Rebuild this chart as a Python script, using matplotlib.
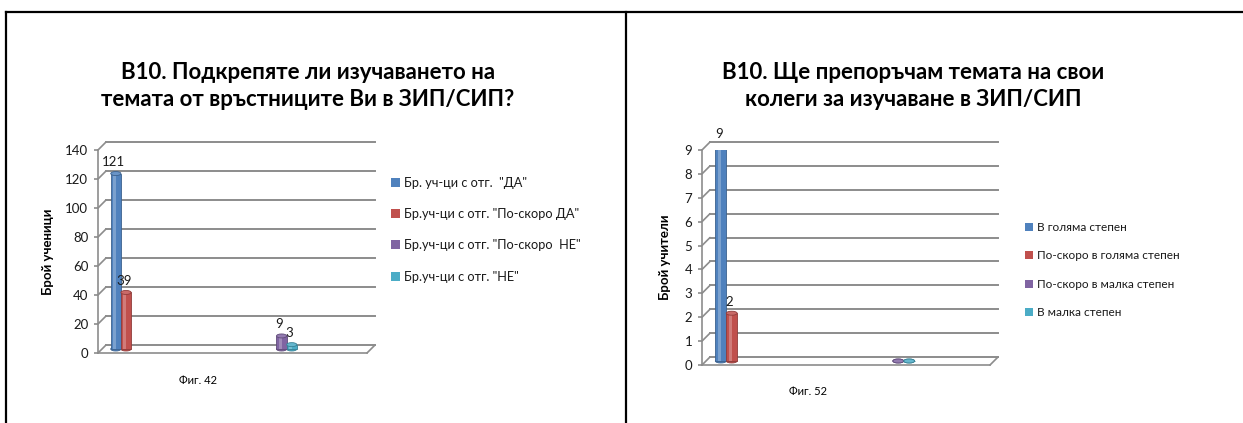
import matplotlib.pyplot as plt
from matplotlib.patches import Ellipse, Patch
from matplotlib.lines import Line2D
from matplotlib.transforms import ScaledTranslation
from matplotlib.colors import to_rgb

plt.rcParams['font.family'] = ['Lato', 'DejaVu Sans']

W, H = 1243, 423
fig = plt.figure(figsize=(W / 100, H / 100), dpi=100)

# Excel 2007 default series colours
series_colors = ['#4F81BD', '#C0504D', '#8064A2', '#4BACC6']
grid_color = '#8C8C8C'

# --- Фиг. 42: ученици ---
students_series = ['Бр. уч-ци с отг.  "ДА"',
                   'Бр.уч-ци с отг. "По-скоро ДА"',
                   'Бр.уч-ци с отг. "По-скоро  НЕ"',
                   'Бр.уч-ци с отг. "НЕ"']
# one list per series, one value per category (None = empty cell)
students_counts = [[121, None],
                   [39, None],
                   [None, 9],
                   [None, 3]]
students_ticks = [0, 20, 40, 60, 80, 100, 120, 140]

# --- Фиг. 52: учители ---
teachers_series = ['В голяма степен',
                   'По-скоро в голяма степен',
                   'По-скоро в малка степен',
                   'В малка степен']
teachers_counts = [[9, None],
                   [2, None],
                   [None, 0],
                   [None, 0]]
teachers_ticks = [0, 1, 2, 3, 4, 5, 6, 7, 8, 9]


def shade(color, f):
    r, g, b = to_rgb(color)
    if f > 0:
        return (r + (1 - r) * f, g + (1 - g) * f, b + (1 - b) * f)
    return (r * (1 + f), g * (1 + f), b * (1 + f))


def px(x, y):
    return x / W, 1 - y / H


def draw_chart(rect, counts, ticks, ylabel, ylabel_xy, legend_labels, legend_xy,
               legend_size, legend_spacing, tick_size):
    ax = fig.add_axes(rect)
    ymax = ticks[-1]
    xl, xr = -0.2, 1.65
    ax.set_xlim(xl, xr)
    ax.set_ylim(0, ymax)
    ax.set_yticks(ticks)
    ax.set_xticks([])
    for s in ['top', 'right']:
        ax.spines[s].set_visible(False)
    for s in ['left', 'bottom']:
        ax.spines[s].set_color(grid_color)
        ax.spines[s].set_linewidth(1.2)
    ax.tick_params(axis='y', length=3, width=1.2, color=grid_color,
                   labelsize=tick_size, pad=4, labelcolor='#1a1a1a')
    ax.patch.set_alpha(0)

    back = ax.transData + ScaledTranslation(0.08, 0.08, fig.dpi_scale_trans)
    mid = ax.transData + ScaledTranslation(0.04, 0.04, fig.dpi_scale_trans)

    # back wall gridlines and side wall diagonals
    for t in ticks:
        ax.plot([xl, xr], [t, t], color=grid_color, lw=1.4, transform=back,
                clip_on=False, zorder=1)
        ax.annotate('', xy=(xl, t), xycoords=back, xytext=(xl, t),
                    textcoords='data',
                    arrowprops=dict(arrowstyle='-', color=grid_color, lw=1.2,
                                    shrinkA=0, shrinkB=0))
    # floor right edge
    ax.annotate('', xy=(xr, 0), xycoords=back, xytext=(xr, 0), textcoords='data',
                arrowprops=dict(arrowstyle='-', color=grid_color, lw=1.2,
                                shrinkA=0, shrinkB=0))

    bar_w = 0.07
    cap_h = ymax * 4 / ax.get_window_extent().height
    n = len(counts)
    for i, (vals, color) in enumerate(zip(counts, series_colors)):
        for cat, v in enumerate(vals):
            if v is None:
                continue
            x = cat + (i - (n - 1) / 2) * bar_w
            ax.bar(x, v, width=bar_w, color=color, edgecolor=shade(color, -0.25),
                   linewidth=0.6, transform=mid, zorder=3)
            ax.bar(x - bar_w * 0.12, v, width=bar_w * 0.25,
                   color=shade(color, 0.25), linewidth=0, transform=mid, zorder=3.1)
            ax.add_patch(Ellipse((x, 0), bar_w, cap_h, facecolor=color,
                                 edgecolor=shade(color, -0.25), lw=0.6,
                                 transform=mid, zorder=2.9))
            ax.add_patch(Ellipse((x, v), bar_w, cap_h, facecolor=shade(color, 0.15),
                                 edgecolor=shade(color, -0.25), lw=0.6,
                                 transform=mid, zorder=3.2))
            if v > 0:
                ax.annotate(str(v), xy=(x, v), xycoords=mid, xytext=(-1.5, 4),
                            textcoords='offset points', ha='center', va='bottom',
                            fontsize=tick_size, color='#1a1a1a')

    fig.text(*px(*ylabel_xy), ylabel, rotation=90, ha='center', va='center',
             fontsize=9.5, fontweight='bold')

    handles = [Patch(facecolor=c, edgecolor='none') for c in series_colors]
    ax.legend(handles, legend_labels, loc='upper left',
              bbox_to_anchor=px(*legend_xy), bbox_transform=fig.transFigure,
              frameon=False, fontsize=legend_size, handlelength=0.7,
              handleheight=0.7, handletextpad=0.35, labelspacing=legend_spacing,
              borderaxespad=0, borderpad=0, labelcolor='#1a1a1a')
    return ax


# left chart
fig.text(*px(308, 86), 'В10. Подкрепяте ли изучаването на\nтемата от връстниците Ви в ЗИП/СИП?',
         ha='center', va='center', fontsize=16, fontweight='bold', linespacing=1.35)
draw_chart([98 / W, 1 - 353 / H, 269 / W, 203 / H], students_counts, students_ticks,
           'Брой ученици', (48, 252), students_series, (391, 177), 9.2, 1.5, 9.5)
fig.text(*px(198, 380), 'Фиг. 42', ha='center', va='center', fontsize=8)

# right chart
fig.text(*px(913, 86), 'В10. Ще препоръчам темата на свои\nколеги за изучаване в ЗИП/СИП',
         ha='center', va='center', fontsize=16, fontweight='bold', linespacing=1.35)
draw_chart([702 / W, 1 - 365 / H, 288 / W, 215 / H], teachers_counts, teachers_ticks,
           'Брой учители', (665, 257), teachers_series, (1025, 222), 8.5, 1.48, 9.5)
fig.text(*px(808, 391), 'Фиг. 52', ha='center', va='center', fontsize=8)

# page frame lines
for xs, ys in [((6, W), (12, 12)), ((6, 6), (12, H)), ((626, 626), (12, H))]:
    fig.add_artist(Line2D([x / W for x in xs], [1 - y / H for y in ys],
                          color='black', lw=1.6))

fig.savefig('out.png', dpi=100)
